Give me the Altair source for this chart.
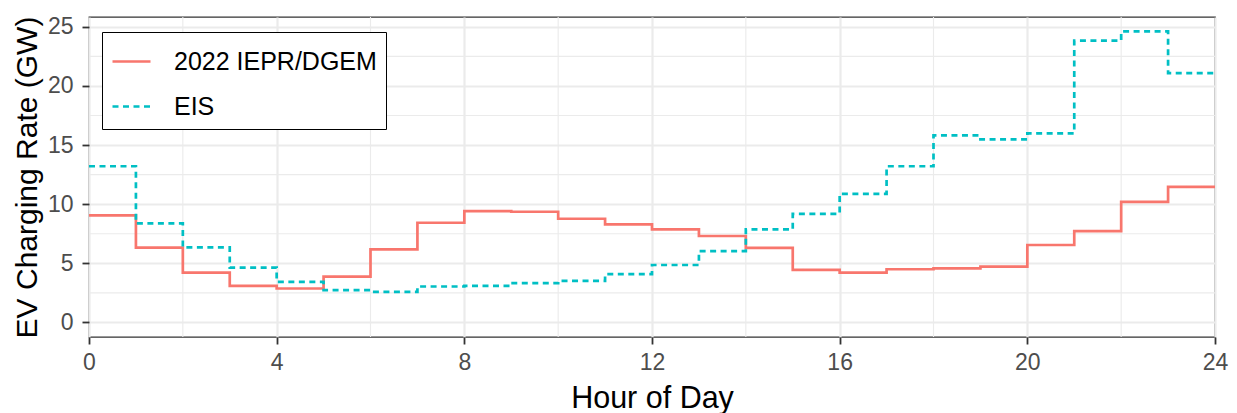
import altair as alt
import pandas as pd

# Data (hour of day 0..23, step values)
hours = list(range(24))
iepr_dgem = [9.05, 6.32, 4.22, 3.09, 2.87, 3.88, 6.18, 8.43, 9.42, 9.36, 8.77, 8.29,
             7.87, 7.31, 6.30, 4.44, 4.22, 4.50, 4.58, 4.72, 6.55, 7.73, 10.20, 11.47]
eis = [13.21, 8.38, 6.35, 4.64, 3.43, 2.73, 2.59, 3.04, 3.09, 3.32, 3.51, 4.08,
       4.86, 6.04, 7.87, 9.19, 10.88, 13.21, 15.82, 15.49, 15.99, 23.83, 24.62, 21.08]
series_names = ["2022 IEPR/DGEM", "EIS"]
x_ticks = [0, 4, 8, 12, 16, 20, 24]
y_ticks = [0, 5, 10, 15, 20, 25]
x_minor = [2, 6, 10, 14, 18, 22]
y_minor = [2.5, 7.5, 12.5, 17.5, 22.5]

rows = []
for name, vals in zip(series_names, [iepr_dgem, eis]):
    for h, v in zip(hours, vals):
        rows.append({"hour": h, "value": v, "series": name})
    rows.append({"hour": 24, "value": vals[-1], "series": name})
df = pd.DataFrame(rows)

FONT = "Liberation Sans"
GRID = "#EBEBEB"

xscale = alt.Scale(domain=[0, 24], nice=False, zero=False)
yscale = alt.Scale(domain=[-1.23, 25.83], nice=False, zero=False)

minor_x_layer = alt.Chart(pd.DataFrame({"x": x_minor})).mark_rule(
    color=GRID, strokeWidth=1.1
).encode(x=alt.X("x:Q", scale=xscale))

minor_y_layer = alt.Chart(pd.DataFrame({"y": y_minor})).mark_rule(
    color=GRID, strokeWidth=1.1
).encode(y=alt.Y("y:Q", scale=yscale))

lines = alt.Chart(df).mark_line(
    interpolate="step-after", strokeWidth=2.7, strokeCap="butt"
).encode(
    x=alt.X("hour:Q", scale=xscale, title="Hour of Day",
            axis=alt.Axis(values=x_ticks, format="d")),
    y=alt.Y("value:Q", scale=yscale, title="EV Charging Rate (GW)",
            axis=alt.Axis(values=y_ticks, format="d")),
    color=alt.Color("series:N", title=None,
                    scale=alt.Scale(domain=series_names, range=["#F8766D", "#00BFC4"])),
    strokeDash=alt.StrokeDash("series:N", title=None,
                              scale=alt.Scale(domain=series_names, range=[[1, 0], [6, 4.5]])),
)

chart = alt.layer(minor_x_layer, minor_y_layer, lines).properties(
    width=1126,
    height=320,
    autosize=alt.AutoSizeParams(type="none"),
    padding={"left": 81, "top": 9, "right": 14, "bottom": 76},
).configure_view(
    stroke="#333333", strokeWidth=1.3
).configure_axis(
    grid=True, gridColor=GRID, gridWidth=2.2,
    domain=False,
    tickColor="#333333", tickWidth=1.8, tickSize=7,
    labelFont=FONT, labelFontSize=23, labelColor="#4D4D4D",
    labelFlush=False, labelOverlap=False,
    titleFont=FONT, titleFontSize=30.5, titleColor="black", titleFontWeight="normal",
).configure_axisX(
    labelPadding=7, titlePadding=9,
).configure_axisY(
    labelPadding=9, titlePadding=5, titleFontSize=30,
).configure_legend(
    orient="none", legendX=13, legendY=15,
    strokeColor="black", fillColor="white",
    padding=9, rowPadding=11,
    labelFont=FONT, labelFontSize=25, labelColor="black", labelOffset=22,
    labelLimit=0,
    symbolType="stroke", symbolSize=1444, symbolStrokeWidth=2.7,
)

chart.save("out.html", embed_options={"renderer": "svg", "actions": False})
